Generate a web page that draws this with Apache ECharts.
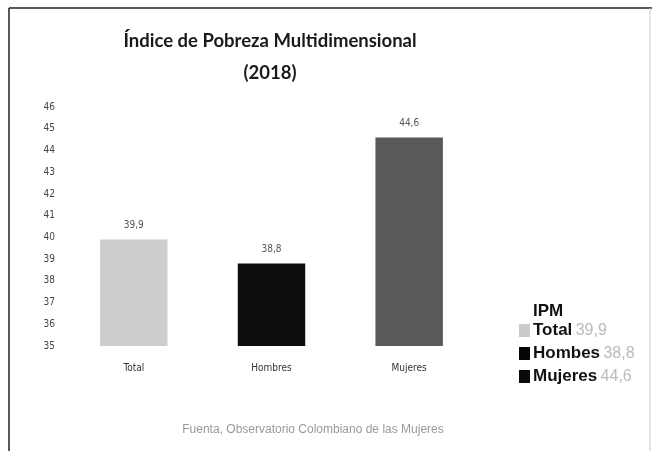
<!DOCTYPE html>
<html>
<head>
<meta charset="utf-8">
<script src="https://cdn.jsdelivr.net/npm/echarts@6/dist/echarts.min.js"></script>
<style>
    html, body { margin: 0; padding: 0; background: #fff; }
    #chart { width: 652px; height: 451px; }
</style>
</head>
<body>
<div id="chart"></div>
<script>
    var categories = ['Total', 'Hombres', 'Mujeres'];
    var legendNames = ['Total', 'Hombes', 'Mujeres'];
    var values = [39.9, 38.8, 44.6];
    var barColors = ['#cdcdcd', '#0e0e0e', '#595959'];
    var legendColors = ['#cbcbcb', '#050505', '#0a0a0a'];

    // 39.9 -> "39,9"
    function fmt(v) {
        return v.toFixed(1).replace('.', ',');
    }

    function buildSeries(i) {
        var data = categories.map(function (c, j) { return j === i ? values[i] : '-'; });
        return {
            name: legendNames[i],
            type: 'bar',
            barWidth: '49%',
            barGap: '-100%',
            itemStyle: { color: barColors[i] },
            label: {
                show: true,
                position: 'top',
                distance: 9,
                color: '#555',
                fontSize: 10,
                fontFamily: 'Liberation Sans Narrow, DejaVu Sans Condensed, sans-serif',
                formatter: function (p) { return fmt(p.value); }
            },
            data: data
        };
    }

    var chart = echarts.init(document.getElementById('chart'));
    chart.setOption({
        animation: false,
        backgroundColor: '#fff',
        title: [{
            text: 'Índice de Pobreza Multidimensional\n(2018)',
            left: 265,
            top: 20,
            textAlign: 'center',
            textStyle: { fontFamily: 'Lato', fontWeight: 'bold', fontSize: 18.5, color: '#1a1a1a', lineHeight: 32 }
        }, {
            text: 'IPM',
            left: 528,
            top: 298,
            textStyle: { fontFamily: 'Liberation Sans', fontWeight: 'bold', fontSize: 17, color: '#111' }
        }, {
            text: 'Fuenta, Observatorio Colombiano de las Mujeres',
            left: 308,
            top: 419,
            textAlign: 'center',
            textStyle: { fontFamily: 'Liberation Sans', fontWeight: 'normal', fontSize: 12, color: '#999' }
        }],
        legend: {
            orient: 'vertical',
            left: 514,
            top: 317,
            itemWidth: 11,
            itemHeight: 13,
            itemGap: 6,
            icon: 'rect',
            selectedMode: false,
            data: legendNames.map(function (n, i) {
                return { name: n, itemStyle: { color: legendColors[i] } };
            }),
            formatter: function (name) {
                var i = legendNames.indexOf(name);
                return '{n|' + name + '} {v|' + fmt(values[i]) + '}';
            },
            textStyle: {
                padding: [0, 0, 0, -2],
                rich: {
                    n: { fontFamily: 'Liberation Sans', fontWeight: 'bold', fontSize: 17, color: '#111' },
                    v: { fontFamily: 'Liberation Sans', fontSize: 16, color: '#bbb' }
                }
            }
        },
        grid: { left: 65, right: 174, top: 107, bottom: 105 },
        xAxis: {
            type: 'category',
            data: categories,
            axisLine: { show: false },
            axisTick: { show: false },
            axisLabel: {
                margin: 17,
                color: '#333',
                fontSize: 10,
                fontFamily: 'Liberation Sans Narrow, DejaVu Sans Condensed, sans-serif'
            }
        },
        yAxis: {
            type: 'value',
            min: 35,
            max: 46,
            interval: 1,
            axisLine: { show: false },
            axisTick: { show: false },
            splitLine: { show: false },
            axisLabel: {
                margin: 10,
                color: '#444',
                fontSize: 10,
                fontFamily: 'Liberation Sans Narrow, DejaVu Sans Condensed, sans-serif'
            }
        },
        graphic: [
            { type: 'line', shape: { x1: 9, y1: 8, x2: 652, y2: 8 }, style: { stroke: '#222', lineWidth: 1.5 } },
            { type: 'line', shape: { x1: 9, y1: 8, x2: 9, y2: 451 }, style: { stroke: '#222', lineWidth: 1.5 } },
            { type: 'line', shape: { x1: 650, y1: 8, x2: 650, y2: 451 }, style: { stroke: '#ccc', lineWidth: 1 } }
        ],
        series: categories.map(function (c, i) { return buildSeries(i); })
    });
</script>
</body>
</html>
